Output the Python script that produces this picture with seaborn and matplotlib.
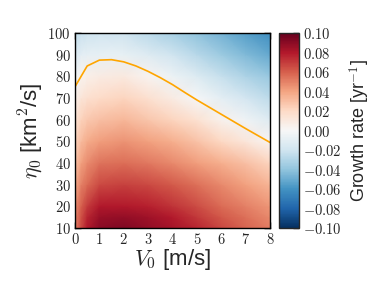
import numpy as np
import matplotlib
matplotlib.use("Agg")
import matplotlib.pyplot as plt
from matplotlib.ticker import FuncFormatter
import seaborn as sns

# grid of the growth-rate map
v0 = [0, 0.25, 0.5, 1, 2, 3, 4, 5, 6, 7, 8]
eta0 = [10, 15, 20, 30, 40, 50, 60, 70, 80, 90, 100]
# one row per eta0, one value per v0
growth = [
    [0.052, 0.066, 0.080, 0.090, 0.093, 0.088, 0.083, 0.076, 0.067, 0.058, 0.052],
    [0.050, 0.064, 0.076, 0.086, 0.088, 0.085, 0.079, 0.071, 0.062, 0.055, 0.048],
    [0.047, 0.060, 0.070, 0.080, 0.080, 0.078, 0.072, 0.065, 0.057, 0.050, 0.044],
    [0.038, 0.050, 0.057, 0.066, 0.068, 0.066, 0.061, 0.055, 0.048, 0.041, 0.034],
    [0.029, 0.041, 0.047, 0.054, 0.056, 0.053, 0.048, 0.042, 0.036, 0.030, 0.022],
    [0.022, 0.032, 0.037, 0.042, 0.045, 0.041, 0.036, 0.029, 0.021, 0.012, 0.002],
    [0.014, 0.023, 0.027, 0.030, 0.033, 0.028, 0.022, 0.015, 0.004, -0.004, -0.013],
    [0.005, 0.013, 0.016, 0.019, 0.022, 0.016, 0.008, -0.001, -0.010, -0.018, -0.026],
    [-0.004, 0.003, 0.006, 0.008, 0.010, 0.003, -0.006, -0.014, -0.023, -0.031, -0.038],
    [-0.015, -0.010, -0.009, -0.008, -0.008, -0.013, -0.020, -0.028, -0.036, -0.044, -0.051],
    [-0.025, -0.022, -0.021, -0.020, -0.021, -0.027, -0.033, -0.040, -0.047, -0.055, -0.062],
]

# zero-growth curve (orange line)
line_v0 = [0, 0.5, 1, 1.5, 2, 2.5, 3, 3.5, 4, 4.5, 5, 5.5, 6, 6.5, 7, 7.5, 8]
line_eta0 = [75.2, 84.8, 87.5, 87.7, 86.7, 84.8, 82.3, 79.4, 76.2, 72.6, 69.1,
             65.8, 62.5, 59.2, 55.9, 52.7, 49.5]

x_ticks = [0, 1, 2, 3, 4, 5, 6, 7, 8]
y_ticks = [10, 20, 30, 40, 50, 60, 70, 80, 90, 100]
cbar_ticks = [-0.10, -0.08, -0.06, -0.04, -0.02, 0.00, 0.02, 0.04, 0.06, 0.08, 0.10]

sns.set_style("ticks")
plt.rcParams["font.family"] = ["Liberation Sans", "DejaVu Sans"]
plt.rcParams["mathtext.fontset"] = "cm"

fig = plt.figure(figsize=(3.74, 2.88), dpi=100)
ax = fig.add_axes([0.2005, 0.2083, 0.5214, 0.677])
cax = fig.add_axes([0.746, 0.2083, 0.0535, 0.677])

mesh = ax.pcolormesh(np.array(v0), np.array(eta0), np.array(growth),
                     shading="gouraud", cmap="RdBu_r", vmin=-0.1, vmax=0.1)
sns.lineplot(x=line_v0, y=line_eta0, color="orange", lw=1.2, ax=ax)

ax.set_xlim(0, 8)
ax.set_ylim(10, 100)
ax.set_xticks(x_ticks)
ax.set_yticks(y_ticks)
ax.xaxis.set_major_formatter(FuncFormatter(lambda v, p: f"${v:g}$"))
ax.yaxis.set_major_formatter(FuncFormatter(lambda v, p: f"${v:g}$"))
ax.tick_params(direction="in", top=True, right=True, length=4.5, width=1.0,
               labelsize=10.5, pad=3, color="black")
for s in ax.spines.values():
    s.set_linewidth(1.0)
    s.set_color("black")
ax.set_xlabel("$V_0$ [m/s]", fontsize=16, labelpad=0)
ax.set_ylabel("$\\eta_0$ [km$^2$/s]", fontsize=16, labelpad=2)

cbar = fig.colorbar(mesh, cax=cax, ticks=cbar_ticks)
cbar.ax.yaxis.set_major_formatter(FuncFormatter(lambda v, p: f"${v:.2f}$"))
cbar.ax.tick_params(direction="in", length=4.5, width=1.0, labelsize=10.5, pad=3)
cbar.outline.set_linewidth(1.0)
cbar.set_label("Growth rate [yr$^{-1}$]", fontsize=13, labelpad=4)

fig.savefig("out.png", dpi=100)
